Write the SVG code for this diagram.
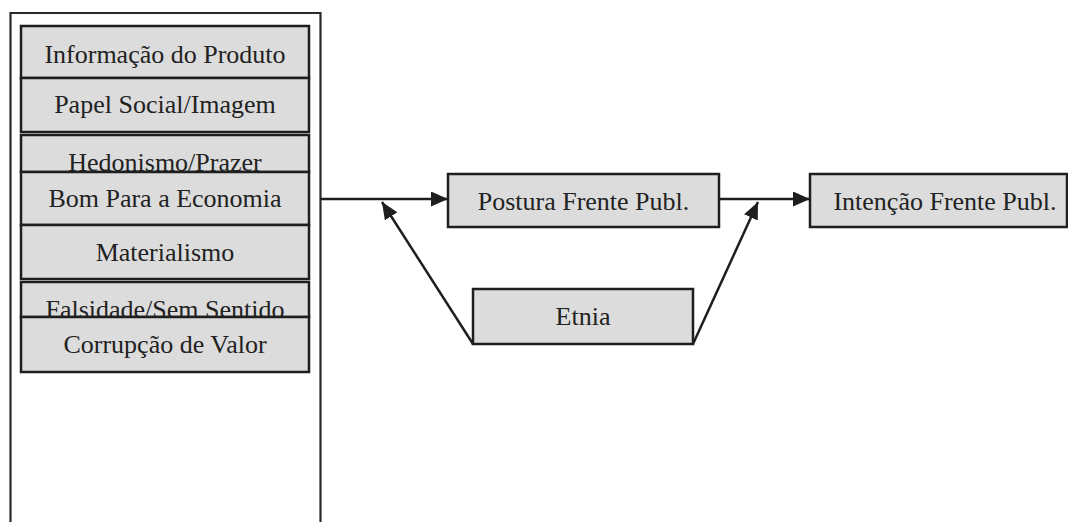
<svg xmlns="http://www.w3.org/2000/svg" width="1068" height="522" viewBox="0 0 1068 522">
<style>
.box{fill:#dcdcdc;stroke:#1e1e1e;stroke-width:2.5}
.t{font-family:'Liberation Serif','Times New Roman',serif;font-size:26px;fill:#222;text-anchor:middle}
.c{fill:none;stroke:#1e1e1e;stroke-width:2.5}
</style>
<defs>
<marker id="ah" markerWidth="17" markerHeight="15" refX="17" refY="7.5" orient="auto" markerUnits="userSpaceOnUse">
<path d="M0,0 L17,7.5 L0,15 Z" fill="#1e1e1e"/>
</marker>
</defs>
<rect width="1068" height="522" fill="#fff"/>
<g id="container">
<path d="M10.5,524 V13 H320.5 V524" fill="none" stroke="#2a2a2a" stroke-width="2.2"/>
</g>
<g id="n1"><rect class="box" x="21" y="26" width="288" height="52"/><text class="t" x="165" y="63" font-family="Liberation Serif, serif">Informação do Produto</text></g>
<g id="n2"><rect class="box" x="21" y="78" width="288" height="54"/><text class="t" x="165" y="113" font-family="Liberation Serif, serif">Papel Social/Imagem</text></g>
<g id="n3"><rect class="box" x="21" y="135" width="288" height="37"/><text class="t" x="165" y="171" font-family="Liberation Serif, serif">Hedonismo/Prazer</text></g>
<g id="n4"><rect class="box" x="21" y="172" width="288" height="53"/><text class="t" x="165" y="207" font-family="Liberation Serif, serif">Bom Para a Economia</text></g>
<g id="n5"><rect class="box" x="21" y="225" width="288" height="54"/><text class="t" x="165" y="261" font-family="Liberation Serif, serif">Materialismo</text></g>
<g id="n6"><rect class="box" x="21" y="282" width="288" height="35"/><text class="t" x="165" y="318" font-family="Liberation Serif, serif">Falsidade/Sem Sentido</text></g>
<g id="n7"><rect class="box" x="21" y="317" width="288" height="55"/><text class="t" x="165" y="353" font-family="Liberation Serif, serif">Corrupção de Valor</text></g>
<g id="postura"><rect class="box" x="448" y="174" width="271" height="53"/><text class="t" x="583.5" y="210" font-family="Liberation Serif, serif">Postura Frente Publ.</text></g>
<g id="intencao"><rect class="box" x="810" y="174" width="257" height="53"/><text class="t" x="945" y="210" font-family="Liberation Serif, serif">Intenção Frente Publ.</text></g>
<g id="etnia"><rect class="box" x="473" y="289" width="220" height="55"/><text class="t" x="583" y="325" font-family="Liberation Serif, serif">Etnia</text></g>
<g id="connectors">
<path class="c" d="M320,199 H448" marker-end="url(#ah)"/>
<path class="c" d="M719,199 H810" marker-end="url(#ah)"/>
<path class="c" d="M473,344 L382,202" marker-end="url(#ah)"/>
<path class="c" d="M693,344 L758,202" marker-end="url(#ah)"/>
</g>
</svg>
